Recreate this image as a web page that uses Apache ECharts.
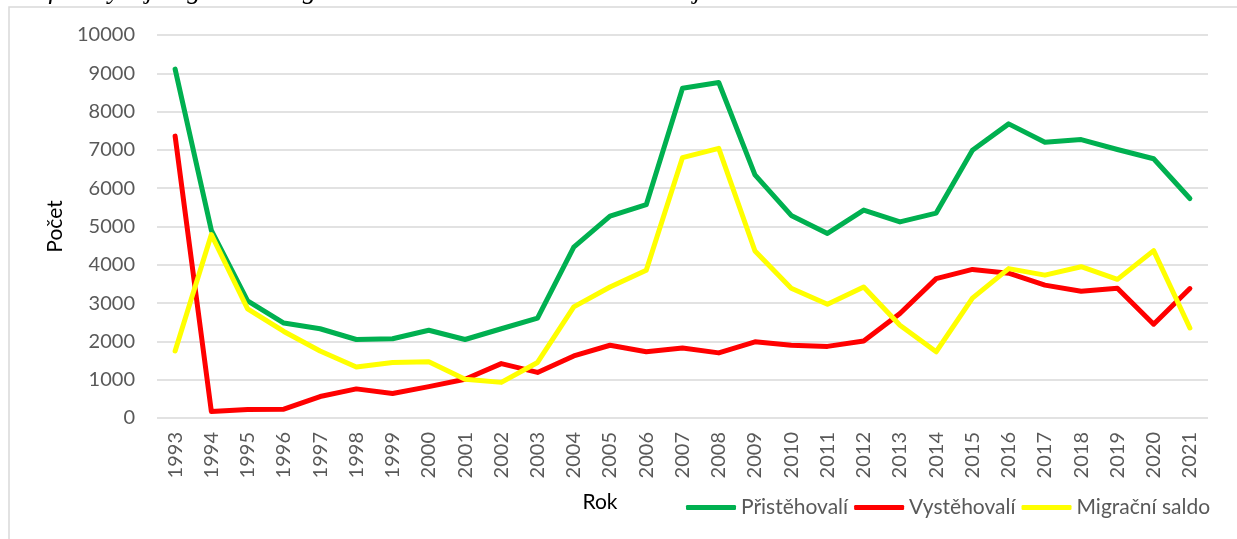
<!DOCTYPE html>
<html>
<head>
<meta charset="utf-8">
<script src="https://cdn.jsdelivr.net/npm/echarts@6/dist/echarts.min.js"></script>
<style>
  html, body { margin: 0; padding: 0; background: #ffffff; }
  #chart { width: 1237px; height: 539px; }
</style>
</head>
<body>
<div id="chart"></div>
<script>
// roky a hodnoty
const years = ['1993','1994','1995','1996','1997','1998','1999','2000','2001','2002',
  '2003','2004','2005','2006','2007','2008','2009','2010','2011','2012',
  '2013','2014','2015','2016','2017','2018','2019','2020','2021'];

const pristehovali = [9110, 4900, 3060, 2480, 2330, 2050, 2070, 2290, 2050, 2330,
  2610, 4460, 5270, 5570, 8610, 8760, 6350, 5290, 4820, 5430,
  5120, 5350, 6990, 7680, 7200, 7270, 7010, 6770, 5730];

const vystehovali = [7360, 170, 220, 230, 560, 760, 640, 820, 1010, 1420,
  1190, 1620, 1900, 1730, 1830, 1700, 1990, 1900, 1870, 2010,
  2730, 3640, 3880, 3780, 3470, 3310, 3390, 2450, 3380];

const saldo = [1750, 4790, 2850, 2260, 1750, 1330, 1450, 1470, 1010, 930,
  1450, 2900, 3420, 3860, 6800, 7040, 4360, 3390, 2970, 3420,
  2420, 1730, 3130, 3900, 3730, 3950, 3620, 4370, 2350];

const yTicks = { min: 0, max: 10000, step: 1000 };

const chart = echarts.init(document.getElementById('chart'));

const labelFont = 'Lato';
const grey = '#595959';

const option = {
  animation: false,
  backgroundColor: '#ffffff',
  grid: {
    left: 157,
    right: 29,
    top: 35,
    bottom: 121
  },
  legend: {
    left: 686,
    top: 497,
    padding: 0,
    itemWidth: 50,
    itemHeight: 5,
    itemGap: 6,
    icon: 'roundRect',
    textStyle: { fontFamily: labelFont, fontSize: 21, color: grey },
    data: ['Přistěhovalí', 'Vystěhovalí', 'Migrační saldo']
  },
  xAxis: {
    type: 'category',
    data: years,
    boundaryGap: true,
    axisLine: { show: false },
    axisTick: { show: false },
    axisLabel: {
      rotate: 90,
      margin: 14,
      fontFamily: labelFont,
      fontSize: 20,
      color: grey,
      interval: 0
    }
  },
  yAxis: {
    type: 'value',
    min: yTicks.min,
    max: yTicks.max,
    interval: yTicks.step,
    name: 'Počet',
    nameLocation: 'middle',
    nameRotate: 90,
    nameGap: 90,
    nameTextStyle: { fontFamily: labelFont, fontSize: 21, color: '#000000' },
    axisLine: { show: false },
    axisTick: { show: false },
    axisLabel: {
      margin: 22,
      fontFamily: labelFont,
      fontSize: 20,
      color: grey,
      formatter: function (v) { return String(v); }
    },
    splitLine: { lineStyle: { color: '#d9d9d9', width: 1.5 } }
  },
  graphic: [
    {
      type: 'rect',
      silent: true,
      shape: { x: 9, y: 7, width: 1400, height: 700 },
      style: { fill: 'none', stroke: '#d9d9d9', lineWidth: 1.5 }
    },
    {
      type: 'text',
      silent: true,
      x: 5,
      y: -9,
      style: {
        text: 'Graf 1: Vývoj migrace a migračního salda ve Středočeském kraji v období 1993–2021',
        font: 'italic 27px "Liberation Serif"',
        fill: '#000000',
        verticalAlign: 'middle'
      }
    },
    {
      type: 'text',
      silent: true,
      x: 600,
      y: 502,
      style: {
        text: 'Rok',
        font: '21px Lato',
        fill: '#000000',
        align: 'center',
        verticalAlign: 'middle'
      }
    }
  ],
  series: [
    {
      name: 'Přistěhovalí',
      type: 'line',
      data: pristehovali,
      symbol: 'none',
      lineStyle: { width: 5, color: '#00b050', cap: 'round', join: 'round' },
      itemStyle: { color: '#00b050' }
    },
    {
      name: 'Vystěhovalí',
      type: 'line',
      data: vystehovali,
      symbol: 'none',
      lineStyle: { width: 5, color: '#ff0000', cap: 'round', join: 'round' },
      itemStyle: { color: '#ff0000' }
    },
    {
      name: 'Migrační saldo',
      type: 'line',
      data: saldo,
      symbol: 'none',
      lineStyle: { width: 5, color: '#ffff00', cap: 'round', join: 'round' },
      itemStyle: { color: '#ffff00' }
    }
  ]
};

chart.setOption(option);
</script>
</body>
</html>
